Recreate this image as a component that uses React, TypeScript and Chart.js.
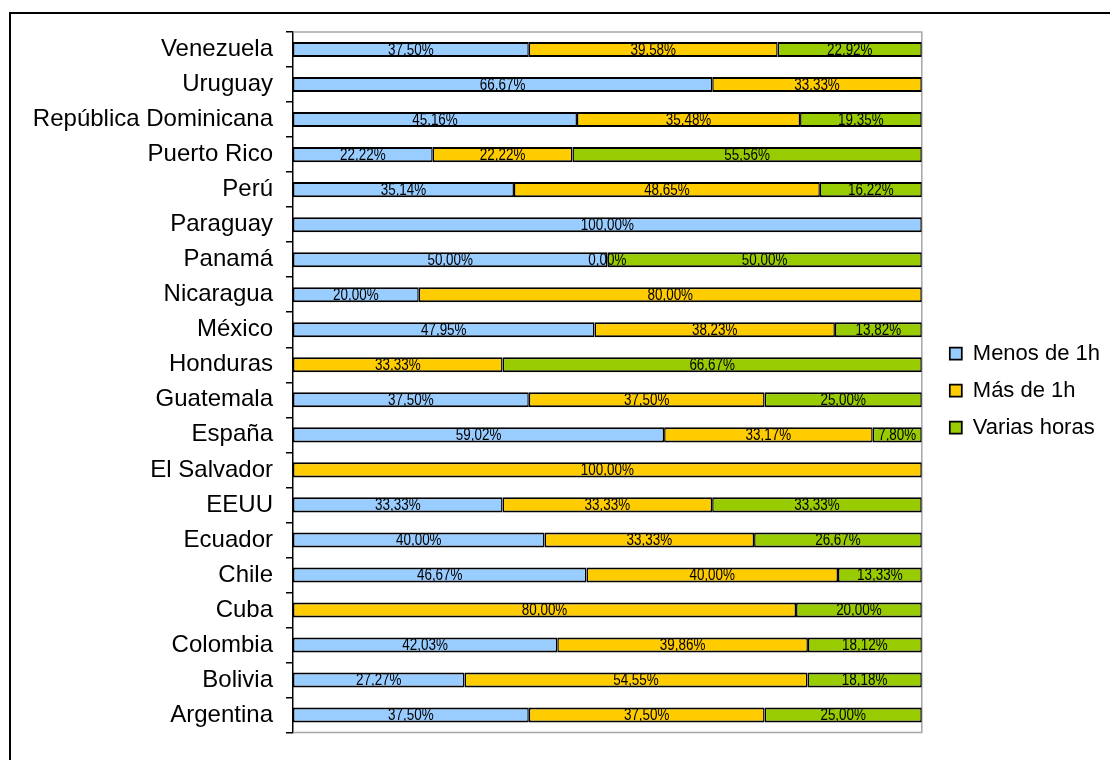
import React, { useEffect, useRef } from "react";
import { Chart, registerables } from "chart.js";

Chart.register(...registerables);

const countries = [
  "Venezuela",
  "Uruguay",
  "República Dominicana",
  "Puerto Rico",
  "Perú",
  "Paraguay",
  "Panamá",
  "Nicaragua",
  "México",
  "Honduras",
  "Guatemala",
  "España",
  "El Salvador",
  "EEUU",
  "Ecuador",
  "Chile",
  "Cuba",
  "Colombia",
  "Bolivia",
  "Argentina",
];

const menosDe1h = [37.5, 66.67, 45.16, 22.22, 35.14, 100, 50, 20, 47.95, null, 37.5, 59.02, null, 33.33, 40.0, 46.67, null, 42.03, 27.27, 37.5];
const masDe1h = [39.58, 33.33, 35.48, 22.22, 48.65, null, 0, 80, 38.23, 33.33, 37.5, 33.17, 100, 33.33, 33.33, 40.0, 80.0, 39.86, 54.55, 37.5];
const variasHoras = [22.92, null, 19.35, 55.56, 16.22, null, 50, null, 13.82, 66.67, 25.0, 7.8, null, 33.33, 26.67, 13.33, 20.0, 18.12, 18.18, 25.0];

const seriesNames = ["Menos de 1h", "Más de 1h", "Varias horas"];
const seriesColors = ["#99CCFF", "#FFCC00", "#99CC00"];

const fmt = (v: number) => v.toFixed(2).replace(".", ",") + "%";

const labelPlugin = {
  id: "segLabels",
  afterDatasetsDraw(chart: any) {
    const ctx = chart.ctx;
    chart.data.datasets.forEach((ds: any, di: number) => {
      const meta = chart.getDatasetMeta(di);
      meta.data.forEach((el: any, i: number) => {
        const v = ds.data[i];
        if (v === null || v === undefined) return;
        const p = el.getProps(["x", "base", "y"], true);
        ctx.save();
        ctx.translate((p.x + p.base) / 2, p.y + 1);
        ctx.scale(0.84, 1);
        ctx.font = '16px "Liberation Sans", Arial, sans-serif';
        ctx.fillStyle = "#000";
        ctx.textAlign = "center";
        ctx.textBaseline = "middle";
        ctx.fillText(fmt(v), 0, 0);
        ctx.restore();
      });
    });
  },
};

const framePlugin = {
  id: "plotFrame",
  beforeDatasetsDraw(chart: any) {
    const { ctx, chartArea: a } = chart;
    ctx.save();
    ctx.strokeStyle = "#a6a6a6";
    ctx.lineWidth = 1.5;
    ctx.beginPath();
    ctx.moveTo(a.left, a.top);
    ctx.lineTo(a.right, a.top);
    ctx.lineTo(a.right, a.bottom);
    ctx.lineTo(a.left, a.bottom);
    ctx.stroke();
    ctx.restore();
  },
};

export default function App() {
  const ref = useRef<HTMLCanvasElement>(null);
  useEffect(() => {
    if (!ref.current) return;
    const data = [menosDe1h, masDe1h, variasHoras];
    const chart = new Chart(ref.current, {
      type: "bar",
      data: {
        labels: countries,
        datasets: data.map((d, i) => ({
          label: seriesNames[i],
          data: d as any,
          backgroundColor: seriesColors[i],
          borderColor: "#000",
          borderWidth: { top: 2, bottom: 2, left: 1.5, right: 1.5 },
          borderSkipped: false,
          categoryPercentage: 1,
          barPercentage: 0.43,
        })),
      },
      options: {
        indexAxis: "y",
        animation: false,
        responsive: false,
        maintainAspectRatio: false,
        layout: { padding: { top: 32, bottom: 11, left: 0, right: 0 } },
        scales: {
          x: { display: false, stacked: true, min: 0, max: 100 },
          y: {
            stacked: true,
            offset: true,
            afterFit: (s: any) => {
              s.width = 293;
            },
            grid: {
              offset: true,
              drawOnChartArea: false,
              drawTicks: true,
              tickLength: 7,
              color: "#000",
              lineWidth: 1.5,
            },
            border: { display: true, color: "#000", width: 1.5 },
            ticks: {
              padding: 13,
              color: "#000",
              font: { family: '"Liberation Sans", Arial, sans-serif', size: 24 },
            },
          },
          yGap: {
            type: "category",
            position: "right",
            labels: countries,
            display: true,
            afterFit: (s: any) => {
              s.width = 13;
            },
            grid: { display: false, drawOnChartArea: false },
            border: { display: false },
            ticks: { display: false },
          },
        },
        plugins: {
          tooltip: { enabled: false },
          legend: {
            position: "right",
            align: "center",
            labels: {
              boxWidth: 12,
              boxHeight: 12,
              padding: 15,
              color: "#000",
              font: { family: '"Liberation Sans", Arial, sans-serif', size: 22 },
            },
          },
        },
      },
      plugins: [framePlugin, labelPlugin],
    });
    return () => chart.destroy();
  }, []);

  return (
    <div style={{ position: "fixed", left: 0, top: 0, width: 1110, height: 760, background: "#fff", overflow: "hidden" }}>
      <canvas ref={ref} width={1110} height={760} style={{ position: "absolute", left: 0, top: 0 }} />
      <div
        style={{
          position: "absolute",
          left: 9,
          top: 12,
          width: 1200,
          height: 900,
          border: "2px solid #000",
          pointerEvents: "none",
        }}
      />
    </div>
  );
}
